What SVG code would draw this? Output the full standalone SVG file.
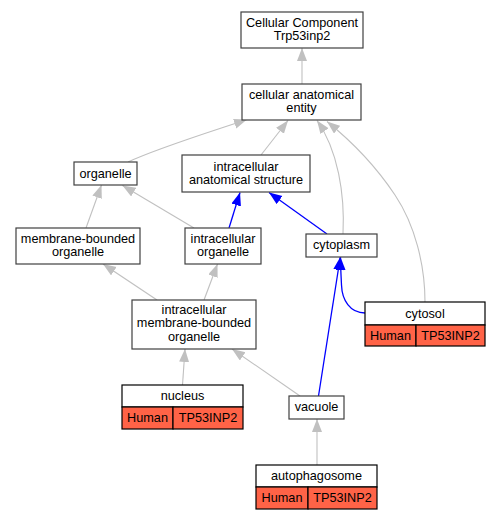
<svg xmlns="http://www.w3.org/2000/svg" width="501" height="520" viewBox="0 0 501 520">
<style>
text{font-family:"Liberation Sans",Arial,sans-serif;font-size:12.7px;fill:#000;text-anchor:middle}
.n{fill:#fff;stroke:#404040;stroke-width:1.2}
.r{fill:#ff6347;stroke:#000;stroke-width:1.2}
.w{fill:#fff;stroke:#000;stroke-width:1.2}
.g{fill:none;stroke:#c0c0c0;stroke-width:1.1}
.b{fill:none;stroke:#0000ff;stroke-width:1.3}
</style>
<defs>
<marker id="ag" markerUnits="userSpaceOnUse" markerWidth="14" markerHeight="11" refX="13" refY="5" orient="auto"><path d="M0,0L13,5L0,10z" fill="#c0c0c0"/></marker>
<marker id="ab" markerUnits="userSpaceOnUse" markerWidth="14" markerHeight="11" refX="13" refY="5" orient="auto"><path d="M0,0L13,5L0,10z" fill="#0000ff"/></marker>
</defs>
<g id="edges">
<path class="g" marker-end="url(#ag)" d="M302,84L302,48"/>
<path class="g" marker-end="url(#ag)" d="M128,162C158,148 210,132 247,119.5"/>
<path class="g" marker-end="url(#ag)" d="M261,155L288,120.5"/>
<path class="g" marker-end="url(#ag)" d="M343,234C345,195 338,150 317,120.5"/>
<path class="g" marker-end="url(#ag)" d="M425,302C425,265 415,225 395,195C375,165 350,140 327,121.5"/>
<path class="g" marker-end="url(#ag)" d="M86,228L101.5,185"/>
<path class="g" marker-end="url(#ag)" d="M194,228L122.5,185.5"/>
<path class="b" marker-end="url(#ab)" d="M229,228L240,192.5"/>
<path class="b" marker-end="url(#ab)" d="M327,234L269,192.5"/>
<path class="g" marker-end="url(#ag)" d="M157,300L103,264"/>
<path class="g" marker-end="url(#ag)" d="M204,300L217.5,264"/>
<path class="b" marker-end="url(#ab)" d="M365,313C350,313 342,300 341.5,285C341,275 340.5,266 340.5,257"/>
<path class="b" marker-end="url(#ab)" d="M318.5,396L340.3,257"/>
<path class="g" marker-end="url(#ag)" d="M182.5,385L185,349"/>
<path class="g" marker-end="url(#ag)" d="M300,396L232,349"/>
<path class="g" marker-end="url(#ag)" d="M317,465L317,419"/>
</g>
<g id="cc"><rect class="n" x="241" y="12" width="122" height="36"/><text x="302" y="27">Cellular Component</text><text x="302" y="40">Trp53inp2</text></g>
<g id="cae"><rect class="n" x="242" y="84" width="119" height="36"/><text x="301.5" y="99">cellular anatomical</text><text x="301.5" y="112">entity</text></g>
<g id="organelle"><rect class="n" x="74" y="162" width="63" height="23"/><text x="105.5" y="177.5">organelle</text></g>
<g id="ias"><rect class="n" x="182" y="155" width="128" height="37"/><text x="246" y="170.5">intracellular</text><text x="246" y="183.5">anatomical structure</text></g>
<g id="mbo"><rect class="n" x="16" y="228" width="124" height="36"/><text x="78" y="243">membrane-bounded</text><text x="78" y="256">organelle</text></g>
<g id="io"><rect class="n" x="185" y="228" width="76" height="36"/><text x="223" y="243">intracellular</text><text x="223" y="256">organelle</text></g>
<g id="cytoplasm"><rect class="n" x="306" y="234" width="71" height="23"/><text x="341.5" y="249">cytoplasm</text></g>
<g id="imbo"><rect class="n" x="132" y="300" width="124" height="49"/><text x="194" y="314">intracellular</text><text x="194" y="327.3">membrane-bounded</text><text x="194" y="340.6">organelle</text></g>
<g id="cytosol"><rect class="w" x="365" y="302" width="120" height="23"/><rect class="r" x="365" y="325" width="51" height="21"/><rect class="r" x="416" y="325" width="69" height="21"/><text x="425" y="317.5">cytosol</text><text x="390.5" y="340">Human</text><text x="450.5" y="340">TP53INP2</text></g>
<g id="nucleus"><rect class="w" x="122" y="385" width="121" height="22"/><rect class="r" x="122" y="407" width="51" height="22"/><rect class="r" x="173" y="407" width="70" height="22"/><text x="182.5" y="400">nucleus</text><text x="147.5" y="422">Human</text><text x="208" y="422">TP53INP2</text></g>
<g id="vacuole"><rect class="n" x="289" y="396" width="55" height="23"/><text x="316.5" y="411">vacuole</text></g>
<g id="autophagosome"><rect class="w" x="256" y="465" width="121" height="22"/><rect class="r" x="256" y="487" width="52" height="22"/><rect class="r" x="308" y="487" width="69" height="22"/><text x="316.5" y="480">autophagosome</text><text x="282" y="502">Human</text><text x="342.5" y="502">TP53INP2</text></g>
</svg>
